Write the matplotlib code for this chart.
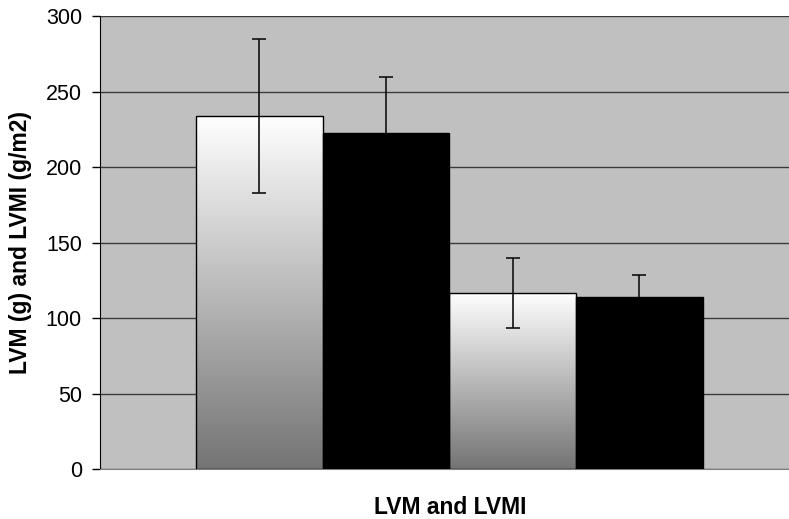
import matplotlib.pyplot as plt
import numpy as np
from matplotlib.colors import LinearSegmentedColormap

plt.rcParams['font.family'] = ['Liberation Sans', 'DejaVu Sans']

# mean and SD for each measure, two groups
measures = ['LVM', 'LVMI']
group_a_mean = [234, 117]
group_a_sd = [51, 23]
group_b_mean = [223, 114]
group_b_sd = [37, 15]
yticks = [0, 50, 100, 150, 200, 250, 300]


def main():
    fig = plt.figure(figsize=(7.89, 5.19), dpi=100)
    ax = fig.add_axes([0.1267, 0.0954, 0.873, 0.873])
    ax.set_facecolor('#c0c0c0')

    # white-gradient bar then black bar for each measure, side by side
    pos_a = [2 * i for i in range(len(measures))]
    pos_b = [2 * i + 1 for i in range(len(measures))]

    bars_a = ax.bar(pos_a, group_a_mean, width=1.0, facecolor='none',
                    edgecolor='black', linewidth=1, zorder=3)
    # black bars sit above the error bars so their lower whiskers are hidden
    ax.bar(pos_b, group_b_mean, width=1.0, color='black',
           edgecolor='black', linewidth=1, zorder=5)

    # fill the group A bars with a vertical white -> gray gradient
    cmap = LinearSegmentedColormap.from_list('fade', ['#747474', '#ffffff'])
    grad = np.linspace(1, 0, 256).reshape(-1, 1)
    for patch in bars_a:
        x0 = patch.get_x()
        w = patch.get_width()
        h = patch.get_height()
        im = ax.imshow(grad, cmap=cmap, aspect='auto', origin='upper',
                       extent=[x0, x0 + w, 0, h], zorder=2.5)
        im.set_clip_path(patch)

    ax.errorbar(pos_a, group_a_mean, yerr=group_a_sd, fmt='none',
                ecolor='#111111', elinewidth=1.2, capsize=5, capthick=1.2, zorder=4)
    ax.errorbar(pos_b, group_b_mean, yerr=group_b_sd, fmt='none',
                ecolor='#111111', elinewidth=1.2, capsize=5, capthick=1.2, zorder=4)

    ax.set_xlim(-1.257, 4.178)
    ax.set_ylim(0, 300)
    ax.set_yticks(yticks)
    ax.set_xticks([])

    ax.yaxis.grid(True, color='#3c3c3c', linewidth=1)
    ax.set_axisbelow(True)

    ax.spines['top'].set_visible(False)
    ax.spines['right'].set_visible(False)
    ax.spines['left'].set_color('black')
    ax.spines['bottom'].set_color('#808080')

    ax.tick_params(axis='y', length=6, width=1, pad=7, labelsize=15.5)

    ax.set_ylabel('LVM (g) and LVMI (g/m2)', fontsize=16.5, fontweight='bold')
    ax.yaxis.set_label_coords(-0.099, 0.5)
    ax.set_xlabel('LVM and LVMI', fontsize=16.5, fontweight='bold')
    ax.xaxis.set_label_coords(0.508, -0.058)

    fig.savefig('out.png', dpi=100)


if __name__ == "__main__":
    main()
